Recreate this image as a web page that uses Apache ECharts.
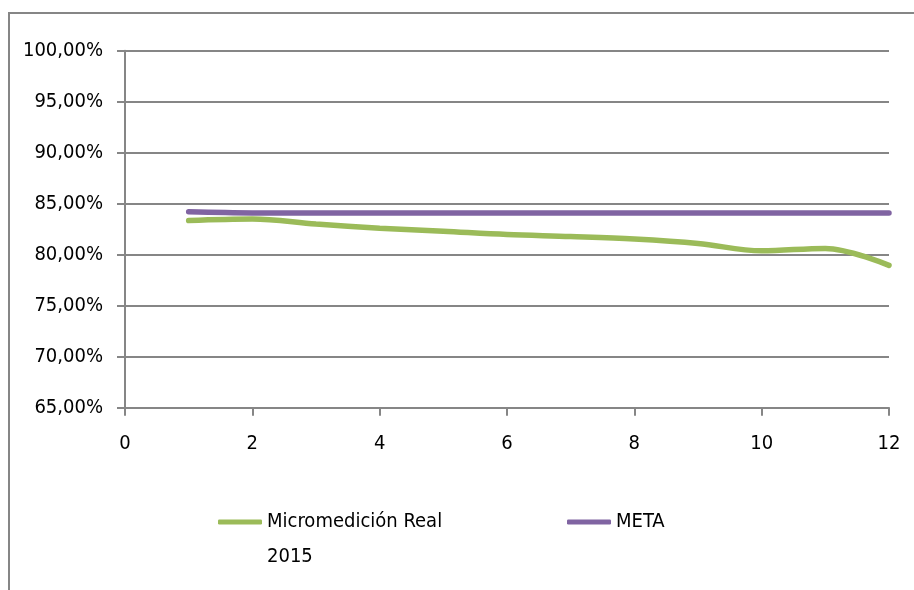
<!DOCTYPE html>
<html>
<head>
<meta charset="utf-8">
<script src="https://cdn.jsdelivr.net/npm/echarts@6/dist/echarts.min.js"></script>
<style>
html,body{margin:0;padding:0;background:#fff;}
#chart{width:914px;height:590px;}
</style>
</head>
<body>
<div id="chart"></div>
<script>
var xValues = [1, 2, 3, 4, 5, 6, 7, 8, 9, 10, 11, 12];
var realValues = [83.35, 83.5, 83.0, 82.6, 82.3, 81.98, 81.78, 81.53, 81.1, 80.38, 80.62, 78.95];
var metaValues = [84.2, 84.1, 84.1, 84.1, 84.1, 84.1, 84.1, 84.1, 84.1, 84.1, 84.1, 84.1];
var seriesNames = ['Micromedición Real 2015', 'META'];
var xTicks = {min: 0, max: 12, interval: 2};
var yTicks = {min: 65, max: 100, interval: 5};

var FONT = "'Liberation Sans Narrow', 'DejaVu Sans Condensed', sans-serif";
var FS = 20;
var GRAY = '#868686';

function pairs(xs, ys) { return xs.map(function (x, i) { return [x, ys[i]]; }); }

var chart = echarts.init(document.getElementById('chart'), null, {renderer: 'canvas'});
chart.setOption({
  backgroundColor: '#ffffff',
  animation: false,
  graphic: [{
    type: 'rect',
    shape: {x: 9, y: 13, width: 1000, height: 1000},
    style: {fill: 'none', stroke: GRAY, lineWidth: 2},
    silent: true
  }],
  grid: {left: 125, right: 25, top: 50.7, bottom: 182.3, containLabel: false},
  xAxis: {
    type: 'value',
    min: xTicks.min, max: xTicks.max, interval: xTicks.interval,
    axisLine: {show: true, lineStyle: {color: GRAY, width: 2}},
    axisTick: {show: true, inside: false, length: 8, lineStyle: {color: GRAY, width: 2}},
    splitLine: {show: false},
    axisLabel: {color: '#000', fontFamily: FONT, fontSize: FS, margin: 26}
  },
  yAxis: {
    type: 'value',
    min: yTicks.min, max: yTicks.max, interval: yTicks.interval,
    axisLine: {show: true, lineStyle: {color: GRAY, width: 2}},
    axisTick: {show: true, inside: false, length: 8, lineStyle: {color: GRAY, width: 2}},
    splitLine: {show: true, lineStyle: {color: GRAY, width: 2}},
    axisLabel: {
      color: '#000', fontFamily: FONT, fontSize: FS, margin: 22,
      formatter: function (v) { return v.toFixed(2).replace('.', ',') + '%'; }
    }
  },
  legend: [{
    data: [seriesNames[0]],
    left: 213, top: 464.5,
    icon: 'roundRect', itemWidth: 44, itemHeight: 5, itemGap: 4,
    formatter: function () { return '\nMicromedición Real\n2015'; },
    textStyle: {color: '#000', fontFamily: FONT, fontSize: FS, lineHeight: 35}
  }, {
    data: [seriesNames[1]],
    left: 562, top: 499.5,
    icon: 'roundRect', itemWidth: 44, itemHeight: 5,
    textStyle: {color: '#000', fontFamily: FONT, fontSize: FS, lineHeight: 35}
  }],
  series: [{
    name: seriesNames[0],
    type: 'line',
    data: pairs(xValues, realValues),
    smooth: 0.35,
    showSymbol: false,
    lineStyle: {color: '#9BBB59', width: 5.5, cap: 'round'},
    itemStyle: {color: '#9BBB59'}
  }, {
    name: seriesNames[1],
    type: 'line',
    data: pairs(xValues, metaValues),
    smooth: 0.35,
    showSymbol: false,
    lineStyle: {color: '#8064A2', width: 5.5, cap: 'round'},
    itemStyle: {color: '#8064A2'}
  }]
});
</script>
</body>
</html>
